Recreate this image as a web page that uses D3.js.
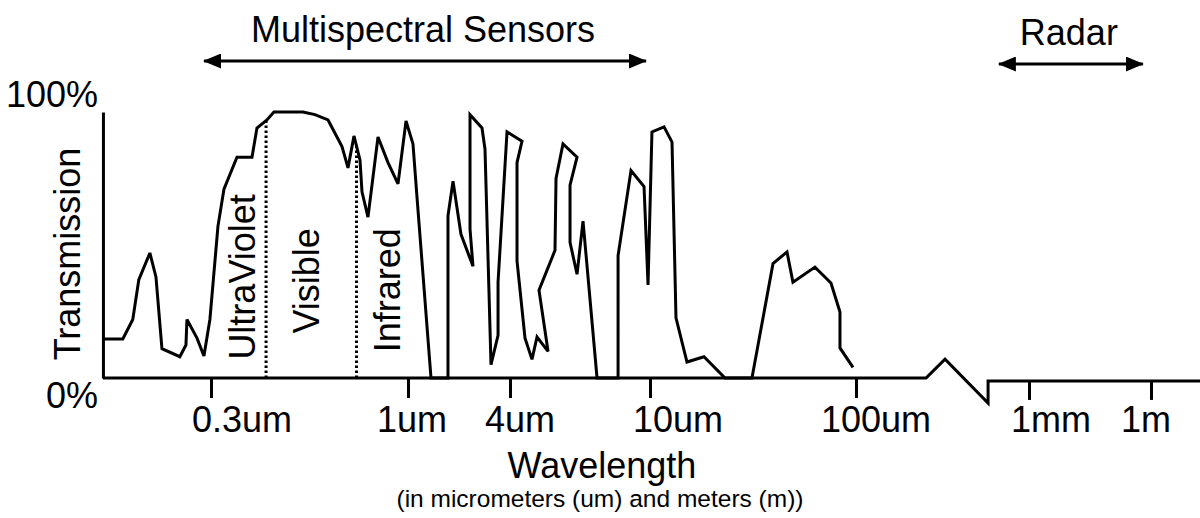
<!DOCTYPE html>
<html><head><meta charset="utf-8">
<script src="https://cdn.jsdelivr.net/npm/d3@7"></script>
<style>
html,body{margin:0;padding:0;background:#fff;}
svg{display:block;font-family:"Liberation Sans",Arial,Helvetica,sans-serif;}
</style>
</head><body>
<svg id="chart" width="1200" height="518"></svg>
<script>
// ---------- data ----------
const tickWavelengths = [0.3, 1, 4, 10, 100, 1000, 1e6];          // micrometers
const tickLabels = ["0.3um", "1um", "4um", "10um", "100um", "1mm", "1m"];
const yTickValues = [0, 100];
const yTickLabels = ["0%", "100%"];

const wavelength = [
  0.155, 0.175, 0.186, 0.193, 0.2065, 0.2143, 0.2223, 0.248, 0.2574, 0.259,
  0.2754, 0.2873, 0.298, 0.313, 0.3247, 0.3516, 0.3854, 0.3973, 0.4222, 0.4407,
  0.5263, 0.5664, 0.6134, 0.6681, 0.693, 0.7188, 0.7457, 0.7549, 0.783, 0.8325,
  0.885, 0.9407, 0.988, 1.07, 1.13, 1.367, 1.722, 1.722, 1.844, 2.055,
  2.419, 2.323, 2.323, 2.734, 2.848, 3.09, 3.4, 3.4, 3.841, 4.327,
  4.188, 4.188, 4.413, 4.619, 4.774, 5.131, 4.836, 5.37, 5.406, 5.658,
  6.203, 5.925, 5.925, 6.203, 6.451, 7.07, 8.114, 8.114, 8.831, 9.617,
  9.872, 10.22, 11.7, 12.79, 13.37, 15.12, 18.28, 23.12, 31.26, 39.54,
  46.24, 49.43, 63.2, 75.6, 83.6, 83.6, 96.7
];
const transmission = [
  14.7, 14.7, 22, 37, 47, 38, 11, 8, 12.4, 22,
  15, 8.3, 22, 57, 71, 83, 83, 94, 97, 100,
  100, 99, 97, 87, 79, 91, 82, 70, 60.5, 90.6,
  81, 73, 96.6, 88, 68, 0, 0, 61, 74, 54,
  42, 56, 99, 94, 86, 5, 16, 36, 92.5, 89,
  81, 44, 15, 7, 15.4, 10, 33, 48, 75, 88,
  83, 72.5, 51, 39, 59, 0, 0, 46, 78, 72,
  35, 92.5, 94.4, 88.7, 22.6, 6, 8, 0, 0, 43,
  47.4, 36, 41.7, 35.7, 24.8, 11.3, 4
];

const regionBounds = [0.42, 0.73];                       // UV|Visible, Visible|IR
const regionNames = ["UltraViolet", "Visible", "Infrared"];

const bandNames = ["Multispectral Sensors", "Radar"];
const bandStart = [0.2805, 635];
const bandEnd = [10, 7.9e5];

const axisBreakWavelength = [254, 327, 580, 580];
const axisBreakLevel = [0, 7.1, -9.4, -1.1];

const xTitle = "Wavelength";
const xSubtitle = "(in micrometers (um) and meters (m))";
const yTitle = "Transmission";

// ---------- layout ----------
const svg = d3.select("#chart");
const W = 1200, H = 518;
const xs = d3.scaleLinear()
  .domain(tickWavelengths.map(Math.log10))
  .range([211, 408, 510, 650, 856, 1029, 1151]);
const x = w => xs(Math.log10(w));
const y = d3.scaleLinear().domain([0, 100]).range([378, 112]);
const font = 36;
const stroke = "#000";

// markers
const defs = svg.append("defs");
defs.append("marker")
  .attr("id", "arrow")
  .attr("markerUnits", "userSpaceOnUse")
  .attr("viewBox", "0 0 18 15")
  .attr("refX", 17).attr("refY", 7.5)
  .attr("markerWidth", 18).attr("markerHeight", 15)
  .attr("orient", "auto-start-reverse")
  .append("path").attr("d", "M0,0 L18,7.5 L0,15 Z").attr("fill", stroke);

// ---------- y axis ----------
svg.append("g")
  .attr("transform", `translate(${x(wavelength[0])},0)`)
  .call(d3.axisLeft(y).tickValues([]).tickSizeOuter(0))
  .call(g => g.select(".domain").attr("stroke", stroke).attr("stroke-width", 3));

const yLabelOffset = [30, -5];
svg.selectAll("text.ytick").data(yTickValues).join("text")
  .attr("class", "ytick")
  .attr("x", 98)
  .attr("y", (d, i) => y(d) + yLabelOffset[i])
  .attr("text-anchor", "end")
  .attr("font-size", font)
  .text((d, i) => yTickLabels[i]);

svg.append("text")
  .attr("transform", `translate(80,${(y(0) + y(100)) / 2 + 9}) rotate(-90)`)
  .attr("text-anchor", "middle")
  .attr("font-size", font)
  .text(yTitle);

// ---------- x axis ----------
const xLeft = 10 ** xs.invert(x(wavelength[0]));
const xRight = 10 ** xs.invert(W + 5);
const axisPts = [[xLeft, 0]]
  .concat(axisBreakWavelength.map((w, i) => [w, axisBreakLevel[i]]))
  .concat([[xRight, axisBreakLevel[axisBreakLevel.length - 1]]]);
svg.append("path")
  .datum(axisPts)
  .attr("fill", "none").attr("stroke", stroke).attr("stroke-width", 3)
  .attr("stroke-linejoin", "miter")
  .attr("d", d3.line().x(d => x(d[0])).y(d => y(d[1])));

const breakAfter = axisBreakWavelength[axisBreakWavelength.length - 1];
const leftTicks = tickWavelengths.filter(w => w < breakAfter);
const rightTicks = tickWavelengths.filter(w => w >= breakAfter);
svg.append("g")
  .attr("transform", `translate(0,${y(0)})`)
  .call(d3.axisBottom(xs).tickValues(leftTicks.map(Math.log10)).tickSize(20).tickFormat(""))
  .call(g => g.select(".domain").remove())
  .call(g => g.selectAll("line").attr("stroke", stroke).attr("stroke-width", 3));
svg.append("g")
  .attr("transform", `translate(0,${y(axisBreakLevel[axisBreakLevel.length - 1])})`)
  .call(d3.axisBottom(xs).tickValues(rightTicks.map(Math.log10)).tickSize(19).tickFormat(""))
  .call(g => g.select(".domain").remove())
  .call(g => g.selectAll("line").attr("stroke", stroke).attr("stroke-width", 3));

const labelNudge = [31, 4, 10, 28, 20, 22, -5];
svg.selectAll("text.xtick").data(tickWavelengths).join("text")
  .attr("class", "xtick")
  .attr("x", (d, i) => x(d) + labelNudge[i])
  .attr("y", 432)
  .attr("text-anchor", "middle")
  .attr("font-size", font)
  .text((d, i) => tickLabels[i]);

svg.append("text")
  .attr("x", 602).attr("y", 478)
  .attr("text-anchor", "middle")
  .attr("font-size", font)
  .text(xTitle);
svg.append("text")
  .attr("x", 600).attr("y", 507)
  .attr("text-anchor", "middle")
  .attr("font-size", 24.5)
  .text(xSubtitle);

// ---------- curve ----------
const pts = wavelength.map((w, i) => [w, transmission[i]]);
svg.append("path")
  .datum(pts)
  .attr("fill", "none").attr("stroke", stroke).attr("stroke-width", 3)
  .attr("stroke-linejoin", "miter").attr("stroke-miterlimit", 3)
  .attr("d", d3.line().x(d => x(d[0])).y(d => y(d[1])));

// region dividers
function curveAt(w) {
  for (let i = 0; i < pts.length - 1; i++) {
    const a = pts[i], b = pts[i + 1];
    if (a[0] !== b[0] && (a[0] - w) * (b[0] - w) <= 0) {
      const t = (Math.log10(w) - Math.log10(a[0])) / (Math.log10(b[0]) - Math.log10(a[0]));
      return a[1] + t * (b[1] - a[1]);
    }
  }
  return 0;
}
svg.selectAll("line.divider").data(regionBounds).join("line")
  .attr("class", "divider")
  .attr("x1", d => x(d)).attr("x2", d => x(d))
  .attr("y1", y(0)).attr("y2", d => y(curveAt(d)))
  .attr("stroke", stroke).attr("stroke-width", 3)
  .attr("stroke-dasharray", "2.5,2.5");

const regionLabelPos = [[0.392, 38], [0.58, 36.5], [0.952, 33]];
svg.selectAll("text.region").data(regionNames).join("text")
  .attr("class", "region")
  .attr("transform", (d, i) => `translate(${x(regionLabelPos[i][0])},${y(regionLabelPos[i][1])}) rotate(-90)`)
  .attr("text-anchor", "middle")
  .attr("font-size", font)
  .text(d => d);

// ---------- sensor bands ----------
const bandArrowY = [61, 64];
const bandTextY = [42, 45];
bandNames.forEach((name, i) => {
  const x1 = x(bandStart[i]), x2 = x(bandEnd[i]);
  svg.append("line")
    .attr("x1", x1 + 4).attr("x2", x2 - 4)
    .attr("y1", bandArrowY[i]).attr("y2", bandArrowY[i])
    .attr("stroke", stroke).attr("stroke-width", 3)
    .attr("marker-start", "url(#arrow)").attr("marker-end", "url(#arrow)");
  svg.append("text")
    .attr("x", (x1 + x2) / 2 - 2).attr("y", bandTextY[i])
    .attr("text-anchor", "middle")
    .attr("font-size", font)
    .text(name);
});
</script>
</body></html>
